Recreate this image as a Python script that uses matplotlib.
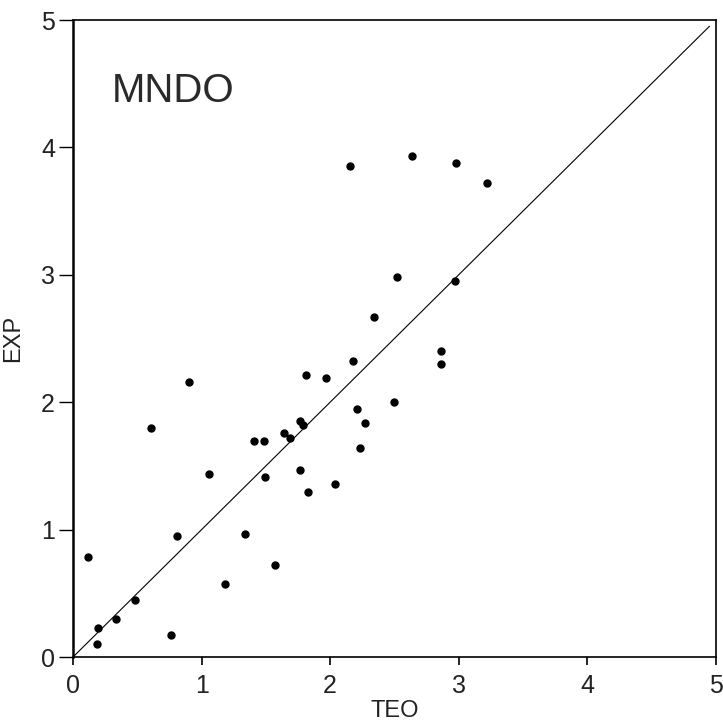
import matplotlib
matplotlib.use('Agg')
import matplotlib.pyplot as plt

plt.rcParams['font.family'] = ['Liberation Sans', 'DejaVu Sans']

teo = [2.635, 2.98, 3.22, 2.155, 2.52, 2.97, 2.345, 2.86, 2.86, 2.177,
       0.90, 1.81, 1.97, 2.21, 0.606, 1.764, 1.788, 1.64, 1.69, 1.404,
       1.487, 2.233, 2.275, 2.50, 1.054, 1.49, 1.764, 1.829, 2.036, 0.81,
       1.334, 1.575, 1.186, 0.12, 0.481, 0.333, 0.196, 0.188, 0.761]
exp = [3.93, 3.88, 3.72, 3.857, 2.985, 2.95, 2.67, 2.40, 2.30, 2.32,
       2.155, 2.21, 2.19, 1.946, 1.797, 1.85, 1.82, 1.76, 1.72, 1.697,
       1.692, 1.64, 1.84, 2.00, 1.435, 1.414, 1.467, 1.296, 1.357, 0.95,
       0.966, 0.726, 0.577, 0.783, 0.45, 0.296, 0.225, 0.10, 0.17]
diag = [0, 4.95]

fig = plt.figure(figsize=(7.23, 7.28), dpi=100)
ax = fig.add_axes([0.101, 0.0975, 0.889, 0.875])

ax.plot(diag, diag, color='black', lw=0.8, zorder=2)
ax.plot(teo, exp, 'o', color='black', ms=5, zorder=3)

ax.text(0.305, 4.36, 'MNDO', fontsize=29, color='#2a2a2a')

ax.set_xlim(0, 5)
ax.set_ylim(0, 5)
ax.set_xticks(range(6))
ax.set_yticks(range(6))
ax.tick_params(axis='y', direction='out', length=10, width=1, pad=3,
               labelsize=18, right=False, labelcolor='#222222')
ax.tick_params(axis='x', direction='out', length=6, width=1.2, pad=6,
               labelsize=18, top=False, labelcolor='#222222')
for sp in ax.spines.values():
    sp.set_linewidth(1.2)
ax.spines['left'].set_linewidth(1.8)

ax.set_xlabel('TEO', fontsize=17, labelpad=2, color='#222222')
ax.set_ylabel('EXP', fontsize=17, labelpad=12, color='#222222')

plt.savefig('out.png', dpi=100)
